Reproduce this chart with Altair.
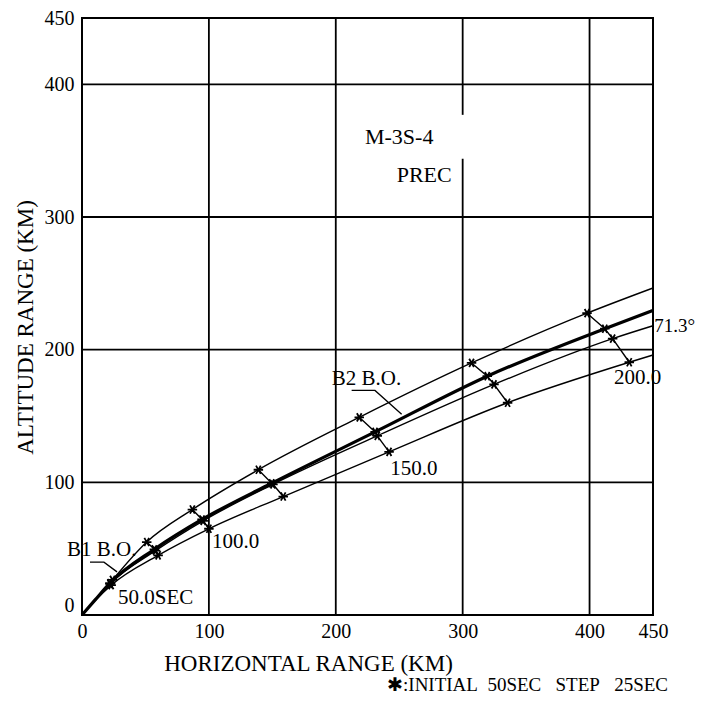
import altair as alt
import pandas as pd

# ---------------- data (km) ----------------
x_ticks = [0, 100, 200, 300, 400, 450]
y_ticks = [0, 100, 200, 300, 400, 450]
grid_values = [100, 200, 300, 400]
gap_x300 = [344, 377]          # gap in the x=300 grid line (altitude range, km)

times = [50, 75, 100, 125, 150, 175, 200]   # sec, one marker per time

# marker positions on each trajectory
top_x = [24, 51, 87, 139, 218.5, 307, 398]
top_y = [26.5, 55, 79.5, 109.5, 149, 190, 227.5]
nom_x = [22, 57, 94.6, 149.5, 231, 319.4, 412]
nom_y = [24, 49.5, 72, 99.3, 138, 180, 215.8]
mid_x = [22, 58, 95.5, 150.5, 232.7, 324.7, 418.2]
mid_y = [23.5, 48.5, 71, 98.5, 135, 173.8, 208.3]
low_x = [23, 60, 100, 158.6, 242, 335.4, 431.3]
low_y = [22.5, 45, 65, 89.3, 123, 160, 190.5]

# start of every trajectory and end values at the right edge
start_x = [0, 10]
start_y = [0, 11]
low_start_y = [0, 10.5]
end_x = 450
top_end_y = 246.5
nom_end_y = 229.5
mid_end_y = 218
low_end_y = 196

# annotations
lab_text = ["50.0SEC", "100.0", "150.0", "200.0", "B1 B.O.", "B2 B.O."]
lab_x = [28.4, 102.4, 243, 419.2, -11.8, 196.8]
lab_y = [12.8, 54.8, 110, 178.8, 48.8, 177.6]

name_text = ["M-3S-4", "PREC"]
name_x = [223, 248]
name_y = [360, 332]

angle_text = ["71.3°"]
angle_x = [451]
angle_y = [217.6]

foot_text = ["✱:INITIAL\u00a0\u00a050SEC\u00a0\u00a0\u00a0STEP\u00a0\u00a0\u00a025SEC"]
foot_x = [461.8]
foot_y = [-53]

b1_lead_x = [6.3, 17.3, 27.6]
b1_lead_y = [39.8, 39.8, 32.5]
b2_lead_x = [212.5, 230.9, 251.9]
b2_lead_y = [169.3, 169.3, 151.3]

# ---------------- tables ----------------
curves = {
    "top": (start_x + top_x + [end_x], start_y + top_y + [top_end_y]),
    "nom": (start_x + nom_x + [end_x], start_y + nom_y + [nom_end_y]),
    "mid": (start_x + mid_x + [end_x], start_y + mid_y + [mid_end_y]),
    "low": (start_x + low_x + [end_x], low_start_y + low_y + [low_end_y]),
}
rows = []
for name, (xs, ys) in curves.items():
    for i, (a, b) in enumerate(zip(xs, ys)):
        rows.append({"curve": name, "i": i, "x": a, "y": b})
curve_df = pd.DataFrame(rows)

mk = []
for k, (xs, ys) in enumerate([(top_x, top_y), (nom_x, nom_y), (mid_x, mid_y), (low_x, low_y)]):
    for t, a, b in zip(times, xs, ys):
        mk.append({"t": t, "k": k, "x": a, "y": b})
marker_df = pd.DataFrame(mk)
cross_df = marker_df[marker_df["t"] > 50]

vgrid = []
for v in grid_values:
    if v == 300:
        vgrid.append({"x": v, "y0": 0, "y1": gap_x300[0]})
        vgrid.append({"x": v, "y0": gap_x300[1], "y1": 450})
    else:
        vgrid.append({"x": v, "y0": 0, "y1": 450})
vgrid_df = pd.DataFrame(vgrid)
hgrid_df = pd.DataFrame({"y": grid_values, "x0": 0, "x1": 450})

lab_df = pd.DataFrame({"text": lab_text, "x": lab_x, "y": lab_y})
name_df = pd.DataFrame({"text": name_text, "x": name_x, "y": name_y})
angle_df = pd.DataFrame({"text": angle_text, "x": angle_x, "y": angle_y})
foot_df = pd.DataFrame({"text": foot_text, "x": foot_x, "y": foot_y})
lead_df = pd.DataFrame({
    "lead": ["b1"] * 3 + ["b2"] * 3,
    "i": [0, 1, 2] * 2,
    "x": b1_lead_x + b2_lead_x,
    "y": b1_lead_y + b2_lead_y,
})

# ---------------- chart ----------------
FONT = "Liberation Serif"
xs_ = alt.Scale(domain=[0, 450], nice=False, zero=False)
ys_ = alt.Scale(domain=[0, 450], nice=False, zero=False)
x_axis = alt.Axis(values=x_ticks, grid=False, domain=False, ticks=False,
                  labelFont=FONT, labelFontSize=20, labelColor="black", labelPadding=6,
                  labelFlush=False,
                  title="HORIZONTAL RANGE (KM)", titleFont=FONT, titleFontSize=23,
                  titleFontWeight="normal", titleColor="black",
                  titleX=226, titleY=48, titleAlign="center", titleBaseline="middle")
y_axis = alt.Axis(values=y_ticks, grid=False, domain=False, ticks=False,
                  labelFont=FONT, labelFontSize=20, labelColor="black", labelPadding=8,
                  labelFlush=False,
                  labelBaseline={"condition": {"test": "datum.value == 0", "value": "bottom"},
                                 "value": "middle"},
                  title="ALTITUDE RANGE (KM)", titleFont=FONT, titleFontSize=23,
                  titleFontWeight="normal", titleColor="black",
                  titleX=-57, titleY=309, titleAlign="center", titleBaseline="middle")


def X(f="x"):
    return alt.X(f, type="quantitative", scale=xs_, axis=x_axis)


def Y(f="y"):
    return alt.Y(f, type="quantitative", scale=ys_, axis=y_axis)


vgrid_l = alt.Chart(vgrid_df).mark_rule(color="black", strokeWidth=1.8).encode(
    x=X(), y=Y("y0"), y2="y1")
hgrid_l = alt.Chart(hgrid_df).mark_rule(color="black", strokeWidth=1.8).encode(
    y=Y(), x=X("x0"), x2="x1")

thin = alt.Chart(curve_df[curve_df["curve"] != "nom"]).mark_line(
    color="black", strokeWidth=1.4, interpolate="monotone").encode(
    x=X(), y=Y(), detail="curve:N", order="i:Q")
thick = alt.Chart(curve_df[curve_df["curve"] == "nom"]).mark_line(
    color="black", strokeWidth=3.2, interpolate="monotone").encode(
    x=X(), y=Y(), order="i:Q")

cross = alt.Chart(cross_df).mark_line(color="black", strokeWidth=1.4).encode(
    x=X(), y=Y(), detail="t:N", order="k:Q")

star = "M-1,0L1,0M-0.5,-0.87L0.5,0.87M-0.5,0.87L0.5,-0.87"
markers = alt.Chart(marker_df).mark_point(
    shape=star, size=90, filled=False, color="black", strokeWidth=1.8, opacity=1).encode(
    x=X(), y=Y())

leads = alt.Chart(lead_df).mark_line(color="black", strokeWidth=1.3).encode(
    x=X(), y=Y(), detail="lead:N", order="i:Q")

labels = alt.Chart(lab_df).mark_text(
    font=FONT, fontSize=21, align="left", baseline="middle", color="black").encode(
    x=X(), y=Y(), text="text:N")

names = alt.Chart(name_df).mark_text(
    font=FONT, fontSize=22, align="left", baseline="middle", color="black").encode(
    x=X(), y=Y(), text="text:N")

angle = alt.Chart(angle_df).mark_text(
    font=FONT, fontSize=19, align="left", baseline="middle", color="black").encode(
    x=X(), y=Y(), text="text:N")

foot = alt.Chart(foot_df).mark_text(
    font=FONT, fontSize=19, align="right", baseline="middle", color="black").encode(
    x=X(), y=Y(), text="text:N")

chart = alt.layer(vgrid_l, hgrid_l, thin, thick, cross, markers, leads,
                  labels, names, angle, foot).properties(
    width=571, height=597,
    padding={"left": 74, "top": 10, "right": 43, "bottom": 79},
    autosize=alt.AutoSizeParams(type="none"),
    background="white",
).configure_view(stroke="black", strokeWidth=2)

chart.save("out.html", embed_options={"renderer": "svg", "actions": False})
